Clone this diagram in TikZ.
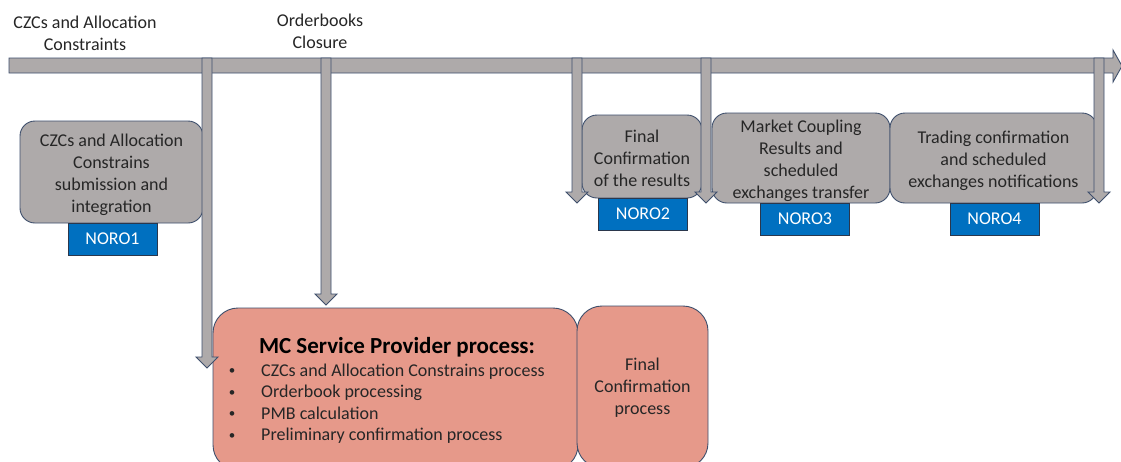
\documentclass[tikz,border=0pt]{standalone}
\usepackage{fontspec}
\setmainfont{Carlito}
\definecolor{boxgray}{HTML}{AEAAAA}
\definecolor{edgeblue}{HTML}{3E4F6C}
\definecolor{noroblue}{HTML}{0070C0}
\definecolor{salmon}{HTML}{E6998A}
\definecolor{txt}{HTML}{262626}
\tikzset{
  graybox/.style={draw=edgeblue, line width=0.9pt, fill=boxgray, rounded corners=15pt, align=center, text=txt, font=\fontsize{18}{22}\selectfont, inner sep=0pt},
  boxtext/.style={align=center, text=txt, font=\fontsize{18}{22}\selectfont, inner sep=0pt},
  norobox/.style={draw=edgeblue!70!black, line width=0.9pt, fill=noroblue, text=white, font=\fontsize{18}{22}\selectfont, minimum width=89pt, minimum height=32pt, inner sep=0pt},
  redbox/.style={draw=edgeblue, line width=0.9pt, fill=salmon, rounded corners=25pt, inner sep=0pt},
  toplabel/.style={align=center, text=txt, font=\fontsize{18}{22}\selectfont, inner sep=0pt},
  bodytxt/.style={text=txt, font=\fontsize{18}{22}\selectfont, inner sep=0pt, text height=12pt, text depth=4pt},
  bullettxt/.style={text=txt, font=\fontsize{13}{16}\selectfont, inner sep=0pt},
  shaft/.style={draw=edgeblue, line width=0.9pt, fill=boxgray, line join=miter}
}
\newcommand\vdownarr[3]{%
  \draw[shaft] (#1-5,#2) -- (#1+5,#2) -- (#1+5,#3-11) -- (#1+11,#3-11) -- (#1,#3) -- (#1-11,#3-11) -- (#1-5,#3-11) -- cycle;}
\begin{document}
\begin{tikzpicture}[x=1pt,y=-1pt]
\useasboundingbox (0,0) rectangle (1121,461);
\clip (0,0) rectangle (1121,461);
\fill[white] (0,0) rectangle (1121,461);
% timeline
\draw[shaft] (9,58) -- (1113,58) -- (1113,50) -- (1122,66) -- (1113,82) -- (1113,73) -- (9,73) -- cycle;
% top labels
\node[toplabel] (lab1) at (85,33.5) {CZCs and Allocation\\Constraints};
\node[toplabel] (lab2) at (320,31.5) {Orderbooks\\Closure};
% gray boxes
\node[graybox, minimum width=183pt, minimum height=102pt] (b1) at (111.5,172) {};
\node[boxtext] (b1t) at (111.5,175) {CZCs and Allocation\\Constrains\\submission and\\integration};
\node[graybox, minimum width=120pt, minimum height=83pt] (b2) at (642,156.5) {};
\node[boxtext] (b2t) at (642,158.5) {Final\\Confirmation\\of the results};
\node[graybox, minimum width=178pt, minimum height=90pt] (b3) at (801,158) {};
\node[boxtext] (b3t) at (801,161) {Market Coupling\\Results and\\scheduled\\exchanges transfer};
\node[graybox, minimum width=207pt, minimum height=90pt] (b4) at (993.5,158) {};
\node[boxtext] (b4t) at (993.5,161) {Trading confirmation\\and scheduled\\exchanges notifications};
% NORO tags
\node[norobox] (n1) at (112.5,239) {NORO1};
\node[norobox] (n2) at (643,214) {NORO2};
\node[norobox] (n3) at (805,219) {NORO3};
\node[norobox] (n4) at (994.5,219) {NORO4};
% red boxes
\node[redbox, minimum width=365pt, minimum height=162pt] (r1) at (395.5,389) {};
\node[redbox, minimum width=131pt, minimum height=162pt] (r2) at (642.5,387) {};
\node[boxtext] (r2t) at (642.5,388) {Final\\Confirmation\\process};
\node[bodytxt, font=\fontsize{23}{26}\selectfont\bfseries, text=black, text height=16pt, text depth=5pt] (title) at (397,348) {MC Service Provider process:};
\foreach \y/\t [count=\i] in {372/CZCs and Allocation Constrains process, 393.5/Orderbook processing, 415/PMB calculation, 436.5/Preliminary confirmation process}{
  \node[bullettxt] (bul\i) at (232,\y) {•};
  \node[bodytxt, anchor=west] (item\i) at (261,\y) {\t};
}
% down arrows
\vdownarr{207}{58}{368}
\vdownarr{326}{58}{305}
\vdownarr{577}{58}{203}
\vdownarr{706}{58}{203}
\vdownarr{1099}{58}{203}
\end{tikzpicture}
\end{document}
